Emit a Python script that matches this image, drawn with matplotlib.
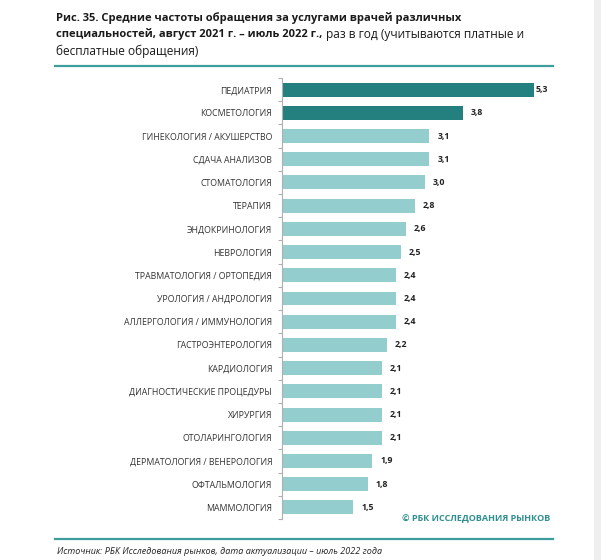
import matplotlib
matplotlib.use('Agg')
import matplotlib.pyplot as plt
from matplotlib.lines import Line2D
from matplotlib.patches import Rectangle

plt.rcParams['font.family'] = ['Open Sans', 'DejaVu Sans']

# ---------------- data ----------------
categories = [
    'ПЕДИАТРИЯ', 'КОСМЕТОЛОГИЯ', 'ГИНЕКОЛОГИЯ / АКУШЕРСТВО', 'СДАЧА АНАЛИЗОВ',
    'СТОМАТОЛОГИЯ', 'ТЕРАПИЯ', 'ЭНДОКРИНОЛОГИЯ', 'НЕВРОЛОГИЯ',
    'ТРАВМАТОЛОГИЯ / ОРТОПЕДИЯ', 'УРОЛОГИЯ / АНДРОЛОГИЯ',
    'АЛЛЕРГОЛОГИЯ / ИММУНОЛОГИЯ', 'ГАСТРОЭНТЕРОЛОГИЯ', 'КАРДИОЛОГИЯ',
    'ДИАГНОСТИЧЕСКИЕ ПРОЦЕДУРЫ', 'ХИРУРГИЯ', 'ОТОЛАРИНГОЛОГИЯ',
    'ДЕРМАТОЛОГИЯ / ВЕНЕРОЛОГИЯ', 'ОФТАЛЬМОЛОГИЯ', 'МАММОЛОГИЯ',
]
values = [5.3, 3.8, 3.1, 3.1, 3.0, 2.8, 2.6, 2.5, 2.4, 2.4, 2.4,
          2.2, 2.1, 2.1, 2.1, 2.1, 1.9, 1.8, 1.5]
highlight = ['ПЕДИАТРИЯ', 'КОСМЕТОЛОГИЯ']

title_1 = 'Рис. 35. Средние частоты обращения за услугами врачей различных'
title_2_bold = 'специальностей, август 2021 г. – июль 2022 г.,'
title_2_norm = 'раз в год (учитываются платные и'
title_3 = 'бесплатные обращения)'
copyright_text = '© РБК ИССЛЕДОВАНИЯ РЫНКОВ'
source_text = 'Источник: РБК Исследования рынков, дата актуализации – июль 2022 года'

DARK = '#23807f'
LIGHT = '#93cdcd'
RULE = '#3f9d9c'

W, H = 601, 560
fig = plt.figure(figsize=(W / 100, H / 100), dpi=100)
fig.patch.set_facecolor('white')

def fx(px):
    return px / W

def fy(py):
    return 1 - py / H

# grey strip at the right edge of the page
fig.patches.append(Rectangle((fx(594), 0), fx(W - 594), 1, transform=fig.transFigure,
                             facecolor='#efefef', edgecolor='none', zorder=0))

ax = fig.add_axes([fx(282), fy(519), fx(252), (519 - 78) / H])
n = len(categories)
ypos = list(range(n))
colors = [DARK if c in highlight else LIGHT for c in categories]
ax.barh(ypos, values, height=0.6, color=colors)
ax.set_ylim(n - 0.5, -0.5)
ax.set_xlim(0, max(values))

for s in ['top', 'right', 'bottom']:
    ax.spines[s].set_visible(False)
ax.spines['left'].set_color('#b0b0b0')
ax.spines['left'].set_linewidth(0.8)
ax.set_xticks([])
ax.set_yticks(ypos)
ax.set_yticklabels(categories, fontsize=6.3, color='#333333')
ax.tick_params(axis='y', which='major', length=0, pad=7)
ax.set_yticks([i - 0.5 for i in range(n + 1)], minor=True)
ax.tick_params(axis='y', which='minor', length=3, color='#b0b0b0', width=0.8)

for i, v in enumerate(values):
    off = 2 if v == max(values) else 8
    ax.annotate(f'{v:.1f}'.replace('.', ','), (v, i), xytext=(off * 0.72, 0),
                textcoords='offset points', va='center', ha='left',
                fontsize=6.3, fontweight='bold', color='#222222', annotation_clip=False)

# title, sizes fitted so the lines span the same width as on the source page
renderer = fig.canvas.get_renderer()
t1 = fig.text(fx(56), fy(18), title_1, fontsize=9, fontweight='bold', va='center', color='#1a1a1a')
bsize = 9 * (463 - 56) / t1.get_window_extent(renderer).width
t1.set_fontsize(bsize)
t2 = fig.text(fx(56), fy(34.5), title_2_bold, fontsize=bsize, fontweight='bold', va='center', color='#1a1a1a')
x2 = t2.get_window_extent(renderer).x1 + 3.5
t2n = fig.text(x2 / W, fy(34.5), title_2_norm, fontsize=9, va='center', color='#1a1a1a')
nsize = 9 * (526 - x2) / t2n.get_window_extent(renderer).width
t2n.set_fontsize(nsize)
fig.text(fx(56), fy(51), title_3, fontsize=nsize, va='center', color='#1a1a1a')

fig.add_artist(Line2D([fx(55), fx(553)], [fy(65.5)] * 2, color=RULE, lw=1.6))
fig.add_artist(Line2D([fx(55), fx(553)], [fy(539)] * 2, color=RULE, lw=1.6))

fig.text(fx(550), fy(519), copyright_text, fontsize=6.5, fontweight='bold', color='#2f8f8f',
         ha='right', va='center')
fig.text(fx(57), fy(551), source_text, fontsize=6.5, style='italic', color='#222222', va='center')

fig.savefig('out.png', dpi=100)
